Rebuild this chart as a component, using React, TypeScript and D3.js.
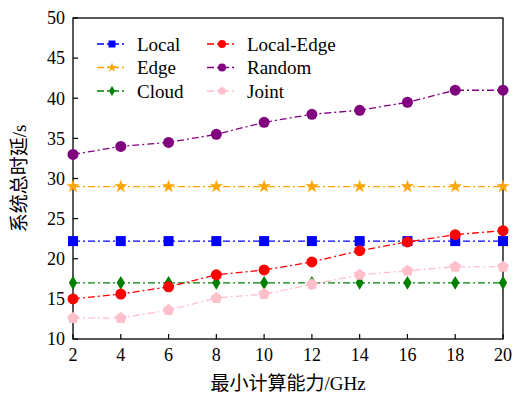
import React from "react";
import * as d3 from "d3";

const xValues = [2, 4, 6, 8, 10, 12, 14, 16, 18, 20];
const localDelay = [22.2, 22.2, 22.2, 22.2, 22.2, 22.2, 22.2, 22.2, 22.2, 22.2];
const edgeDelay = [29, 29, 29, 29, 29, 29, 29, 29, 29, 29];
const cloudDelay = [17, 17, 17, 17, 17, 17, 17, 17, 17, 17];
const localEdgeDelay = [15, 15.6, 16.5, 18, 18.6, 19.6, 21, 22.1, 23, 23.5];
const randomDelay = [33, 34, 34.5, 35.5, 37, 38, 38.5, 39.5, 41, 41];
const jointDelay = [12.6, 12.6, 13.6, 15.1, 15.6, 16.8, 18, 18.5, 19, 19];
const yTicks = [10, 15, 20, 25, 30, 35, 40, 45, 50];
const xTicks = [2, 4, 6, 8, 10, 12, 14, 16, 18, 20];

type Shape = "square" | "star" | "diamond" | "circle" | "pentagon";

const series: { name: string; values: number[]; color: string; shape: Shape }[] = [
  { name: "Local", values: localDelay, color: "#0000ff", shape: "square" },
  { name: "Edge", values: edgeDelay, color: "#ffa500", shape: "star" },
  { name: "Cloud", values: cloudDelay, color: "#008000", shape: "diamond" },
  { name: "Local-Edge", values: localEdgeDelay, color: "#ff0000", shape: "circle" },
  { name: "Random", values: randomDelay, color: "#800080", shape: "circle" },
  { name: "Joint", values: jointDelay, color: "#ffc0cb", shape: "pentagon" },
];

const W = 521;
const H = 396;
const margin = { left: 73, right: 18, top: 18, bottom: 57 };
const serif = "Liberation Serif, DejaVu Serif, Noto Sans CJK SC, serif";
const fontStyle = { fontFamily: serif };

function Marker({ shape, x, y, color, s }: { shape: Shape; x: number; y: number; color: string; s: number }) {
  if (shape === "square") {
    return <rect x={x - s / 2} y={y - s / 2} width={s} height={s} fill={color} />;
  }
  if (shape === "circle") {
    return <circle cx={x} cy={y} r={s / 2} fill={color} />;
  }
  if (shape === "diamond") {
    const w = s * 0.38;
    const h = s * 0.62;
    return <path d={`M${x},${y - h}L${x + w},${y}L${x},${y + h}L${x - w},${y}Z`} fill={color} />;
  }
  if (shape === "star") {
    const area = s * s * 0.45;
    const p = d3.symbol(d3.symbolStar, area)() as string;
    return <path d={p} transform={`translate(${x},${y})`} fill={color} />;
  }
  const pts = d3.range(5).map((i) => {
    const a = -Math.PI / 2 + (i * 2 * Math.PI) / 5;
    return [x + (s / 1.8) * Math.cos(a), y + (s / 1.8) * Math.sin(a)];
  });
  return <polygon points={pts.map((p) => p.join(",")).join(" ")} fill={color} />;
}

export default function App() {
  const x = d3.scaleLinear().domain([2, 20]).range([margin.left, W - margin.right]);
  const y = d3.scaleLinear().domain([10, 50]).range([H - margin.bottom, margin.top]);
  const line = d3
    .line<number>()
    .x((_, i) => x(xValues[i]))
    .y((d) => y(d));
  const dash = "7,3,2,3";
  const x0 = x.range()[0];
  const x1 = x.range()[1];
  const yb = y.range()[0];
  const yt = y.range()[1];

  const legendCols = [
    { lx: 97, tx: 137 },
    { lx: 207, tx: 247 },
  ];
  const legendRows = [44, 67.5, 91];

  return (
    <svg width={W} height={H} style={{ position: "absolute", left: 0, top: 0 }}>
      <rect width={W} height={H} fill="#fff" />
      {series.map((s) => (
        <path key={s.name} d={line(s.values) as string} fill="none" stroke={s.color} strokeWidth={1.3} strokeDasharray={dash} />
      ))}
      {/* frame */}
      <rect x={x0} y={yt} width={x1 - x0} height={yb - yt} fill="none" stroke="#000" strokeWidth={1.3} />
      {yTicks.map((t) => (
        <g key={"y" + t}>
          <line x1={x0} x2={x0 + 5} y1={y(t)} y2={y(t)} stroke="#000" strokeWidth={1.2} />
          <text x={x0 - 8} y={y(t)} dy="0.35em" textAnchor="end" style={fontStyle} fontSize={18}>
            {t}
          </text>
        </g>
      ))}
      {xTicks.map((t) => (
        <g key={"x" + t}>
          <line x1={x(t)} x2={x(t)} y1={yb} y2={yb - 5} stroke="#000" strokeWidth={1.2} />
          <text x={x(t)} y={yb + 22} textAnchor="middle" style={fontStyle} fontSize={18}>
            {t}
          </text>
        </g>
      ))}
      {series.map((s) =>
        s.values.map((v, i) => (
          <Marker key={s.name + i} shape={s.shape} x={x(xValues[i])} y={y(v)} color={s.color} s={s.shape === "square" ? 10 : 11} />
        ))
      )}
      <text x={(x0 + x1) / 2} y={390} textAnchor="middle" style={fontStyle} fontSize={19}>
        最小计算能力/GHz
      </text>
      <text
        transform={`translate(26,${(yt + yb) / 2}) rotate(-90)`}
        textAnchor="middle"
        style={fontStyle}
        fontSize={19}
      >
        系统总时延/s
      </text>
      {series.map((s, i) => {
        const col = legendCols[Math.floor(i / 3)];
        const ry = legendRows[i % 3];
        return (
          <g key={"lg" + s.name}>
            <line x1={col.lx} x2={col.lx + 30} y1={ry} y2={ry} stroke={s.color} strokeWidth={1.3} strokeDasharray={dash} />
            <Marker shape={s.shape} x={col.lx + 15} y={ry} color={s.color} s={s.shape === "square" ? 7 : 8} />
            <text x={col.tx} y={ry} dy="0.35em" style={fontStyle} fontSize={19}>
              {s.name}
            </text>
          </g>
        );
      })}
    </svg>
  );
}
